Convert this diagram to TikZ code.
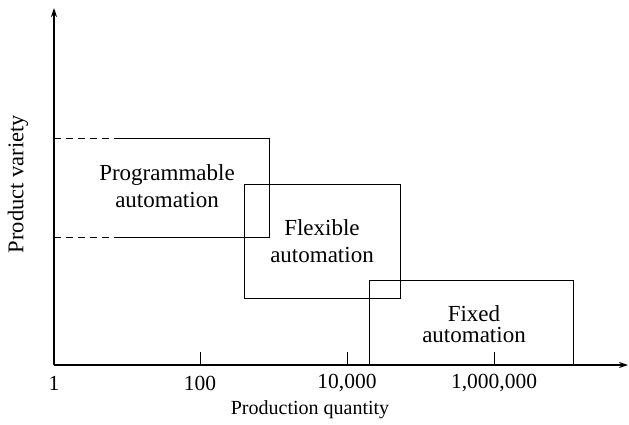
\documentclass[tikz,border=0pt]{standalone}
\usepackage{fontspec}
\setmainfont{Liberation Serif}
\usetikzlibrary{arrows.meta}
\begin{document}
\begin{tikzpicture}[x=1pt,y=-1pt,
  axis/.style={line width=1.3pt,-{Stealth[length=9pt,width=6pt]}},
  box/.style={line width=1pt},
  dashpart/.style={line width=1pt,dash pattern=on 7pt off 5pt},
  lbl/.style={font=\fontsize{20}{26}\selectfont,align=center,inner sep=0pt},
  num/.style={font=\fontsize{21.5}{26}\selectfont,inner sep=0pt},
  boxlbl/.style={font=\fontsize{23}{27}\selectfont,align=center,inner sep=0pt},
  tick/.style={line width=1pt}]
\useasboundingbox (0,0) rectangle (629,425);
% axes
\coordinate (O) at (54,365);
\coordinate (ytop) at (54,8);
\coordinate (xend) at (628,365);
\draw[axis] (O) -- (ytop);
\draw[axis] (O) -- (xend);
% ticks
\foreach \x/\n in {200/a,347/b,494/c}{
  \coordinate (t\n) at (\x,365);
  \coordinate (t\n u) at (\x,352);
  \draw[tick] (t\n) -- (t\n u);
}
\node[num] (l1) at (54,383) {1};
\node[num] (l2) at (200,383) {100};
\node[num] (l3) at (347,383) {10,000};
\node[num] (l4) at (494,383) {1,000,000};
\node[lbl] (xl) at (310,410) {Production quantity};
\node[lbl,font=\fontsize{22.5}{26}\selectfont,rotate=90] (yl) at (18,184) {Product variety};
% programmable box
\coordinate (p1) at (54,139);
\coordinate (p2) at (115,139);
\coordinate (p3) at (269,139);
\coordinate (p4) at (269,237);
\coordinate (p5) at (115,237);
\coordinate (p6) at (54,237);
\draw[dashpart] (p1) -- (p2);
\draw[dashpart] (p6) -- (p5);
\draw[box] (p2) -- (p3) -- (p4) -- (p5);
% flexible box
\coordinate (f1) at (244,184);
\coordinate (f2) at (400,298);
\draw[box] (f1) rectangle (f2);
% fixed box
\coordinate (x1) at (369,280);
\coordinate (x2) at (573,365);
\draw[box] (x1) rectangle (x2);
% labels
\node[boxlbl] (prog) at (167,186) {Programmable\\automation};
\node[boxlbl] (flex) at (322,241) {Flexible\\automation};
\node[boxlbl,font=\fontsize{23}{21}\selectfont] (fix) at (474,324) {Fixed\\automation};
\end{tikzpicture}
\end{document}
